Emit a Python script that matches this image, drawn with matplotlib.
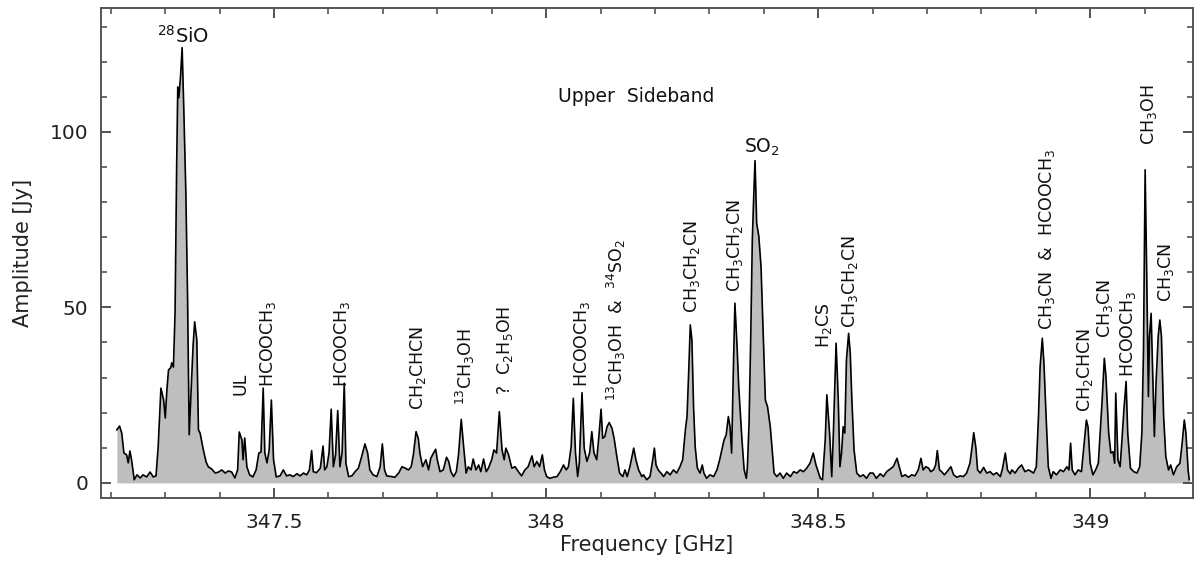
import numpy as np
import matplotlib.pyplot as plt
from matplotlib.ticker import MultipleLocator

plt.rcParams['font.family'] = ['DejaVu Sans']
plt.rcParams['mathtext.default'] = 'regular'

# spectrum: frequency [GHz], amplitude [Jy]
freq = [
    347.211, 347.216, 347.220, 347.224, 347.229, 347.232, 347.235, 347.238, 347.243, 347.248,
    347.254, 347.259, 347.266, 347.272, 347.278, 347.283, 347.287, 347.292, 347.297, 347.300,
    347.303, 347.306, 347.310, 347.312, 347.315, 347.318, 347.321, 347.323, 347.325, 347.328,
    347.331, 347.334, 347.338, 347.341, 347.344, 347.347, 347.351, 347.354, 347.358, 347.361,
    347.364, 347.370, 347.375, 347.379, 347.385, 347.392, 347.398, 347.404, 347.410, 347.416,
    347.422, 347.428, 347.433, 347.436, 347.441, 347.443, 347.446, 347.450, 347.455, 347.461,
    347.467, 347.472, 347.476, 347.480, 347.483, 347.487, 347.491, 347.495, 347.499, 347.504,
    347.511, 347.517, 347.523, 347.529, 347.535, 347.542, 347.548, 347.554, 347.560, 347.565,
    347.569, 347.572, 347.578, 347.585, 347.590, 347.593, 347.597, 347.601, 347.605, 347.609,
    347.613, 347.617, 347.621, 347.625, 347.629, 347.632, 347.637, 347.643, 347.649, 347.655,
    347.661, 347.667, 347.672, 347.676, 347.682, 347.689, 347.695, 347.699, 347.703, 347.707,
    347.716, 347.722, 347.729, 347.735, 347.741, 347.747, 347.752, 347.756, 347.761, 347.765,
    347.768, 347.773, 347.779, 347.784, 347.788, 347.793, 347.797, 347.800, 347.805, 347.811,
    347.817, 347.821, 347.825, 347.830, 347.835, 347.839, 347.844, 347.848, 347.853, 347.857,
    347.862, 347.866, 347.871, 347.876, 347.880, 347.885, 347.890, 347.894, 347.900, 347.904,
    347.909, 347.914, 347.919, 347.923, 347.926, 347.931, 347.937, 347.943, 347.949, 347.955,
    347.961, 347.967, 347.974, 347.978, 347.983, 347.988, 347.993, 347.997, 348.001, 348.007,
    348.013, 348.020, 348.026, 348.032, 348.037, 348.041, 348.046, 348.050, 348.054, 348.058,
    348.061, 348.066, 348.070, 348.075, 348.080, 348.084, 348.088, 348.093, 348.097, 348.101,
    348.104, 348.108, 348.112, 348.116, 348.121, 348.125, 348.130, 348.135, 348.141, 348.145,
    348.149, 348.154, 348.161, 348.165, 348.170, 348.176, 348.179, 348.185, 348.191, 348.196,
    348.199, 348.202, 348.206, 348.211, 348.216, 348.222, 348.228, 348.234, 348.240, 348.246,
    348.251, 348.256, 348.259, 348.262, 348.265, 348.268, 348.271, 348.274, 348.278, 348.283,
    348.287, 348.290, 348.295, 348.301, 348.308, 348.314, 348.319, 348.323, 348.327, 348.331,
    348.335, 348.338, 348.341, 348.344, 348.347, 348.351, 348.354, 348.357, 348.360, 348.364,
    348.368, 348.370, 348.373, 348.376, 348.379, 348.382, 348.384, 348.387, 348.391, 348.395,
    348.398, 348.403, 348.407, 348.412, 348.416, 348.419, 348.424, 348.430, 348.436, 348.442,
    348.449, 348.455, 348.461, 348.467, 348.473, 348.479, 348.485, 348.491, 348.496, 348.504,
    348.508, 348.513, 348.516, 348.521, 348.525, 348.528, 348.533, 348.537, 348.540, 348.543,
    348.546, 348.549, 348.552, 348.556, 348.559, 348.562, 348.566, 348.571, 348.577, 348.583,
    348.589, 348.595, 348.601, 348.607, 348.614, 348.620, 348.626, 348.632, 348.638, 348.645,
    348.649, 348.654, 348.660, 348.666, 348.672, 348.678, 348.684, 348.689, 348.693, 348.698,
    348.703, 348.707, 348.712, 348.716, 348.719, 348.723, 348.727, 348.732, 348.737, 348.744,
    348.749, 348.755, 348.761, 348.767, 348.773, 348.779, 348.783, 348.786, 348.790, 348.793,
    348.798, 348.804, 348.810, 348.816, 348.822, 348.828, 348.835, 348.839, 348.844, 348.848,
    348.853, 348.856, 348.862, 348.868, 348.874, 348.880, 348.887, 348.896, 348.901, 348.905,
    348.908, 348.912, 348.915, 348.919, 348.923, 348.928, 348.932, 348.938, 348.945, 348.951,
    348.957, 348.961, 348.964, 348.967, 348.972, 348.978, 348.984, 348.989, 348.993, 348.996,
    349.000, 349.005, 349.010, 349.015, 349.018, 349.022, 349.026, 349.029, 349.034, 349.038,
    349.042, 349.045, 349.047, 349.051, 349.055, 349.058, 349.062, 349.066, 349.069, 349.074,
    349.080, 349.086, 349.091, 349.095, 349.098, 349.101, 349.104, 349.107, 349.109, 349.112,
    349.115, 349.118, 349.121, 349.125, 349.128, 349.131, 349.135, 349.139, 349.144, 349.148,
    349.153, 349.159, 349.165, 349.169, 349.173, 349.176, 349.180, 349.182,
]
amp = [
    15.1, 16.2, 14.2, 8.5, 8.0, 5.7, 9.1, 6.6, 0.9, 2.3,
    1.4, 2.3, 1.7, 3.1, 1.7, 2.0, 10.3, 27.0, 23.6, 18.5,
    26.5, 32.2, 32.8, 34.2, 33.0, 48.4, 91.0, 112.8, 109.7, 115.7,
    124.0, 107.0, 81.5, 53.0, 13.7, 24.5, 38.7, 45.9, 40.7, 15.1,
    14.2, 9.4, 6.0, 4.6, 4.0, 2.8, 3.1, 3.7, 2.8, 3.4,
    3.1, 1.4, 3.7, 14.5, 12.2, 6.6, 12.8, 4.6, 2.3, 1.7,
    3.7, 8.5, 8.8, 27.0, 8.5, 5.7, 9.4, 23.6, 6.6, 1.7,
    2.0, 3.7, 2.0, 2.3, 1.8, 2.6, 2.0, 2.8, 2.3, 3.7,
    9.2, 3.2, 2.9, 4.2, 10.5, 3.7, 4.6, 8.5, 21.0, 4.6,
    8.0, 20.6, 4.6, 8.5, 28.4, 5.6, 1.8, 2.0, 3.2, 4.2,
    7.5, 11.1, 8.5, 3.7, 2.3, 1.8, 4.6, 11.1, 3.7, 2.0,
    1.8, 1.6, 2.8, 4.6, 4.2, 3.7, 4.6, 8.0, 14.6, 12.7,
    8.5, 4.6, 6.6, 3.7, 7.0, 8.5, 9.6, 6.6, 3.2, 3.7,
    7.3, 6.1, 3.2, 1.8, 3.2, 8.0, 18.1, 11.0, 2.8, 4.6,
    3.7, 6.8, 3.7, 5.1, 3.2, 6.8, 3.2, 4.2, 6.6, 9.4,
    8.5, 20.3, 9.4, 6.6, 9.9, 8.0, 4.2, 4.6, 3.2, 2.0,
    3.7, 4.6, 7.7, 4.6, 6.1, 4.6, 8.0, 3.7, 1.8, 1.3,
    1.6, 1.8, 3.2, 5.1, 3.7, 4.6, 10.3, 24.1, 8.5, 1.8,
    5.6, 25.7, 9.9, 6.1, 8.5, 14.6, 8.5, 6.6, 13.2, 21.0,
    12.7, 13.2, 16.0, 17.2, 15.6, 12.7, 7.5, 2.8, 1.8, 3.7,
    1.8, 4.6, 9.9, 6.6, 3.7, 1.8, 2.3, 0.9, 1.8, 6.6,
    9.9, 5.1, 3.7, 2.8, 1.8, 3.2, 2.3, 3.7, 2.8, 4.6,
    6.6, 15.1, 18.9, 31.3, 45.0, 40.7, 21.7, 10.3, 4.2, 2.8,
    5.1, 2.8, 1.3, 2.3, 1.8, 3.7, 6.6, 9.4, 12.2, 13.7,
    18.9, 16.0, 8.5, 31.3, 51.2, 38.8, 27.4, 19.9, 12.2, 3.7,
    1.3, 4.6, 17.0, 40.7, 69.2, 83.5, 91.8, 74.0, 70.2, 61.6,
    47.4, 23.6, 21.7, 16.0, 8.5, 2.8, 1.8, 2.8, 1.3, 2.8,
    1.8, 3.2, 2.8, 3.7, 3.2, 4.2, 5.6, 8.5, 5.1, 1.3,
    0.9, 12.2, 25.1, 14.2, 1.8, 14.2, 39.8, 23.6, 4.6, 8.5,
    16.0, 14.2, 35.0, 42.6, 37.0, 23.6, 9.4, 2.8, 1.8, 2.3,
    1.3, 2.8, 2.8, 1.3, 2.6, 1.8, 3.2, 3.9, 4.6, 7.0,
    4.6, 1.8, 2.3, 1.6, 2.3, 2.0, 3.7, 7.0, 3.7, 4.6,
    4.2, 3.2, 3.7, 5.1, 9.2, 3.7, 3.2, 2.3, 3.2, 4.6,
    2.3, 1.6, 2.0, 1.8, 2.8, 5.6, 10.3, 14.3, 9.9, 3.7,
    2.8, 4.4, 2.8, 3.2, 2.3, 2.9, 1.8, 4.2, 8.5, 3.7,
    2.6, 3.7, 2.8, 4.2, 5.1, 3.2, 3.7, 2.8, 4.6, 18.9,
    33.1, 41.2, 34.1, 18.9, 4.6, 1.3, 3.2, 2.3, 3.7, 3.2,
    4.6, 3.7, 11.3, 3.7, 2.3, 3.7, 3.2, 11.3, 17.9, 16.0,
    5.6, 2.3, 3.7, 5.6, 13.2, 23.6, 35.5, 30.3, 14.2, 8.5,
    8.9, 5.6, 25.6, 6.6, 4.6, 11.3, 20.8, 28.9, 14.2, 4.2,
    3.2, 2.8, 4.6, 14.2, 37.9, 89.2, 58.8, 24.6, 41.7, 48.3,
    30.3, 13.2, 28.4, 41.7, 46.4, 41.7, 18.9, 7.5, 3.7, 5.1,
    2.3, 4.6, 5.6, 11.3, 17.9, 14.2, 3.7, 0.9,
]

# line identifications: text, frequency, amplitude of the label foot
line_names = ['UL', 'HCOOCH$_3$', 'HCOOCH$_3$', 'CH$_2$CHCN', '$^{13}$CH$_3$OH',
              '?  C$_2$H$_5$OH', 'HCOOCH$_3$', '$^{13}$CH$_3$OH  &  $^{34}$SO$_2$',
              'CH$_3$CH$_2$CN', 'CH$_3$CH$_2$CN', 'H$_2$CS', 'CH$_3$CH$_2$CN',
              'CH$_3$CN  &  HCOOCH$_3$', 'CH$_2$CHCN', 'CH$_3$CN', 'HCOOCH$_3$',
              'CH$_3$OH', 'CH$_3$CN']
line_freq = [347.438, 347.489, 347.624, 347.765, 347.852, 347.925, 348.066, 348.130,
             348.268, 348.347, 348.510, 348.559, 348.920, 348.991, 349.028, 349.070,
             349.109, 349.140]
line_amp = [25.0, 27.4, 27.4, 20.8, 22.2, 25.0, 27.4, 23.2,
            48.4, 54.5, 38.4, 44.0, 43.6, 20.3, 41.2, 30.3,
            96.3, 51.6]

fig = plt.figure(figsize=(11.96, 5.62), dpi=100)
ax = fig.add_axes([0.0845, 0.1139, 0.913, 0.8719])

ax.fill_between(freq, amp, 0, color='#bebebe', linewidth=0)
ax.plot(freq, amp, color='black', linewidth=1.2)

for name, f, a in zip(line_names, line_freq, line_amp):
    ax.text(f, a, name, rotation=90, ha='center', va='bottom', fontsize=12.5, color='#111111')

ax.text(347.333, 124.3, '$^{28}$SiO', ha='center', va='bottom', fontsize=14, color='#111111')
ax.text(348.397, 92.5, 'SO$_2$', ha='center', va='bottom', fontsize=13.5, color='#111111')
ax.text(348.165, 110, 'Upper  Sideband', ha='center', va='center', fontsize=13.5, color='#111111')

ax.set_xlim(347.182, 349.189)
ax.set_ylim(-4.3, 135.3)
ax.xaxis.set_major_locator(MultipleLocator(0.5))
ax.xaxis.set_minor_locator(MultipleLocator(0.1))
ax.yaxis.set_major_locator(MultipleLocator(50))
ax.yaxis.set_minor_locator(MultipleLocator(10))
ax.xaxis.set_major_formatter(plt.FuncFormatter(lambda v, p: f'{v:g}'))

ax.tick_params(which='both', direction='in', top=True, right=True,
               colors='#444444', labelcolor='#222222', labelsize=14.5)
ax.tick_params(which='major', length=7.5, width=1.3)
ax.tick_params(which='minor', length=4.5, width=1.1)
ax.tick_params(axis='x', pad=11)
ax.tick_params(axis='y', pad=9)
for s in ax.spines.values():
    s.set_color('#555555')
    s.set_linewidth(1.4)

ax.set_xlabel('Frequency [GHz]', fontsize=15, color='#222222', labelpad=2)
ax.set_ylabel('Amplitude [Jy]', fontsize=15, color='#222222', labelpad=12)

fig.savefig('out.png', dpi=100)
